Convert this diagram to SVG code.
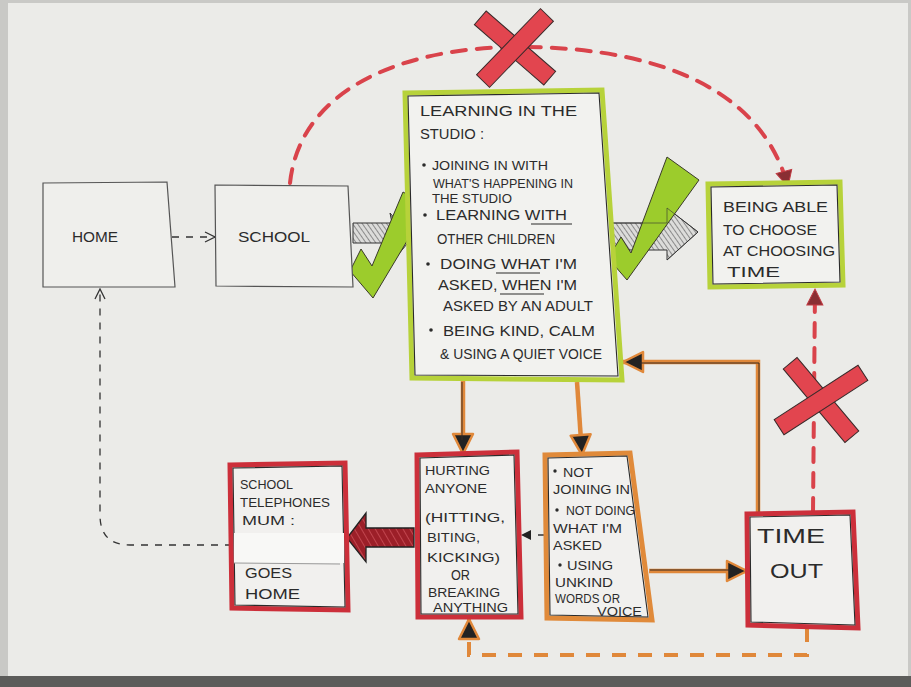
<svg xmlns="http://www.w3.org/2000/svg" width="911" height="687" viewBox="0 0 911 687">
<defs>
<style>
.t{font-family:"Liberation Sans",Arial,sans-serif;fill:#2b2b2b;font-size:14px}
.s{font-size:12.5px}
.big{font-size:20px}
.gbox{fill:#f2f2ef;stroke:#b7d23a;stroke-width:5}
.rbox{fill:#f1f0ee;stroke:#cc2f3a;stroke-width:5}
.obox{fill:#f1f0ee;stroke:#e08a3a;stroke-width:5}
.ink{fill:none;stroke:#2a2a2a;stroke-width:1.1}
.plain{fill:#efefec;stroke:#555;stroke-width:1.2}
.orange{fill:none;stroke:#e0883a;stroke-width:4.5}
.oink{fill:none;stroke:#3a2a20;stroke-width:1}
.reddash{fill:none;stroke:#d9434b;stroke-width:4;stroke-dasharray:14 11;stroke-linecap:round}
.odash{fill:none;stroke:#e0883a;stroke-width:4;stroke-dasharray:14 12}
.bdash{fill:none;stroke:#333;stroke-width:1.3;stroke-dasharray:7 7}
.x{fill:#e2454f;stroke:#3a2a2a;stroke-width:1}
.check{fill:#9ccc2c;stroke:#3a3a2a;stroke-width:1}
.ul{stroke:#2b2b2b;stroke-width:1.2}
</style>
<marker id="openArrow" viewBox="0 0 12 12" refX="11" refY="6" markerWidth="12" markerHeight="12" markerUnits="userSpaceOnUse" orient="auto">
<path d="M1,1 L11,6 L1,11" fill="none" stroke="#333" stroke-width="1.3"/>
</marker>
<marker id="oHead" viewBox="0 0 24 24" refX="22" refY="12" markerWidth="24" markerHeight="24" markerUnits="userSpaceOnUse" orient="auto">
<path d="M2,2 L22,12 L2,22 Z" fill="#222" stroke="#e0883a" stroke-width="2.5" stroke-linejoin="round"/>
</marker>
<marker id="rHead" viewBox="0 0 20 20" refX="18" refY="10" markerWidth="20" markerHeight="20" markerUnits="userSpaceOnUse" orient="auto">
<path d="M2,2 L18,10 L2,18 Z" fill="#8a2e33" stroke="#c03a42" stroke-width="1"/>
</marker>
<marker id="bHead" viewBox="0 0 12 12" refX="11" refY="6" markerWidth="12" markerHeight="12" markerUnits="userSpaceOnUse" orient="auto">
<path d="M1,1 L11,6 L1,11 Z" fill="#222"/>
</marker>
<pattern id="hatch" patternUnits="userSpaceOnUse" width="4" height="4" patternTransform="rotate(-35)">
<rect width="4" height="4" fill="#dcdcda"/>
<line x1="0" y1="0" x2="0" y2="4" stroke="#555" stroke-width="1.2"/>
</pattern>
<pattern id="rhatch" patternUnits="userSpaceOnUse" width="6" height="6" patternTransform="rotate(-30)">
<rect width="6" height="6" fill="#9c1f28"/>
<line x1="0" y1="0" x2="0" y2="6" stroke="#d55a62" stroke-width="1.3"/>
</pattern>
</defs>

<!-- paper / photo background -->
<rect x="0" y="0" width="911" height="687" fill="#c9c9c6"/>
<rect x="8" y="3" width="900" height="674" fill="#ebebe8"/>
<rect x="0" y="676" width="911" height="11" fill="#5c5c5a"/>

<!-- connectors -->
<g id="connectors">
<path d="M172,237 H215" class="bdash" stroke-dasharray="6 5" marker-end="url(#openArrow)"/>
<path d="M290,183 C300,90 400,48 515,47 C640,46 760,80 788,187" class="reddash" marker-end="url(#rHead)"/>
<path d="M813,512 L815,289" class="reddash" marker-end="url(#rHead)"/>
<path d="M463,380 V454" class="orange" marker-end="url(#oHead)"/>
<path d="M462,382 V440" class="oink"/>
<path d="M577,382 L582,455" class="orange" marker-end="url(#oHead)"/>
<path d="M649,571 H747" class="orange" marker-end="url(#oHead)"/>
<path d="M650,570 H730" class="oink"/>
<path d="M758,512 V362 H623" class="orange" marker-end="url(#oHead)"/>
<path d="M759,512 V363 H640" class="oink"/>
<path d="M545,535 H521" class="bdash" stroke-dasharray="5 4" marker-end="url(#bHead)"/>
<path d="M232,545 H130 Q100,545 100,515 V289" class="bdash" marker-end="url(#openArrow)"/>
<path d="M807,628 V655 H469 V619" class="odash" marker-end="url(#oHead)"/>
<polygon points="414,528 366,528 366,513 347,538 366,562 366,547 414,547" fill="url(#rhatch)" stroke="#222" stroke-width="1.3"/>
</g>

<!-- hatched arrows + ticks -->
<g id="tick-school-learning">
<polygon points="353,223 392,223 390,213 412,238 392,262 392,243 353,243" fill="url(#hatch)" stroke="#333" stroke-width="1"/>
<polygon points="350,271 361,249 372,266 403,192 428,206 373,298" class="check"/>
</g>
<g id="tick-learning-choose">
<polygon points="610,223 667,223 667,208 698,232 667,260 667,250 610,250" fill="url(#hatch)" stroke="#333" stroke-width="1"/>
<polygon points="608,258 621,237 631,253 667,157 699,180 627,280" class="check"/>
<polyline points="610,223 667,223 667,208 698,232 667,260" fill="none" stroke="#333" stroke-width="1" opacity="0.6"/>
</g>

<!-- red crosses -->
<g id="cross-top">
<rect x="-46" y="-9" width="92" height="18" class="x" transform="translate(515,48) rotate(41)"/>
<rect x="-46" y="-9" width="92" height="18" class="x" transform="translate(515,48) rotate(-46)"/>
</g>
<g id="cross-right">
<rect x="-48" y="-9" width="96" height="18" class="x" transform="translate(821,400) rotate(50)"/>
<rect x="-50" y="-9" width="100" height="18" class="x" transform="translate(821,400) rotate(-33)"/>
</g>

<!-- nodes -->
<g id="home">
<polygon points="43,183 167,182 175,287 43,287" class="plain"/>
<text class="t" x="72" y="242" font-size="13" textLength="46" lengthAdjust="spacingAndGlyphs">HOME</text>
</g>

<g id="school">
<polygon points="215,185 348,186 353,287 216,286" class="plain"/>
<text class="t" x="238" y="242" font-size="13" textLength="72" lengthAdjust="spacingAndGlyphs">SCHOOL</text>
</g>

<g id="learning">
<polygon points="405,93 602,90 622,380 412,378" class="gbox"/>
<polygon points="408,96 599,93 618,376 415,375" class="ink"/>
<text class="t" x="420" y="116" font-size="15" textLength="157" lengthAdjust="spacingAndGlyphs">LEARNING IN THE</text>
<text class="t" x="420" y="139" font-size="15" textLength="64" lengthAdjust="spacingAndGlyphs">STUDIO :</text>
<circle cx="424" cy="165" r="1.8" fill="#2b2b2b"/>
<text class="t s" x="432" y="170" textLength="116" lengthAdjust="spacingAndGlyphs">JOINING IN WITH</text>
<text class="t s" x="433" y="188" textLength="140" lengthAdjust="spacingAndGlyphs">WHAT'S HAPPENING IN</text>
<text class="t s" x="432" y="203" textLength="80" lengthAdjust="spacingAndGlyphs">THE STUDIO</text>
<circle cx="425" cy="215" r="1.8" fill="#2b2b2b"/>
<text class="t" x="436" y="220" textLength="131" lengthAdjust="spacingAndGlyphs">LEARNING WITH</text>
<line x1="531" y1="224" x2="572" y2="224" class="ul"/>
<text class="t" x="437" y="244" textLength="118" lengthAdjust="spacingAndGlyphs">OTHER CHILDREN</text>
<circle cx="428" cy="264" r="1.8" fill="#2b2b2b"/>
<text class="t" x="440" y="269" textLength="137" lengthAdjust="spacingAndGlyphs">DOING WHAT I'M</text>
<line x1="496" y1="273" x2="540" y2="273" class="ul"/>
<text class="t" x="438" y="290" textLength="139" lengthAdjust="spacingAndGlyphs">ASKED, WHEN I'M</text>
<line x1="500" y1="294" x2="544" y2="294" class="ul"/>
<text class="t" x="443" y="311" textLength="150" lengthAdjust="spacingAndGlyphs">ASKED BY AN ADULT</text>
<circle cx="431" cy="330" r="1.8" fill="#2b2b2b"/>
<text class="t" x="443" y="336" textLength="152" lengthAdjust="spacingAndGlyphs">BEING KIND, CALM</text>
<text class="t" x="440" y="359" textLength="162" lengthAdjust="spacingAndGlyphs">&amp; USING A QUIET VOICE</text>
</g>

<g id="choose">
<polygon points="708,184 840,182 843,285 710,287" class="gbox"/>
<polygon points="711,187 837,185 840,282 713,284" class="ink"/>
<text class="t" x="723" y="212" textLength="105" lengthAdjust="spacingAndGlyphs">BEING ABLE</text>
<text class="t" x="723" y="235" textLength="94" lengthAdjust="spacingAndGlyphs">TO CHOOSE</text>
<text class="t" x="723" y="256" textLength="112" lengthAdjust="spacingAndGlyphs">AT CHOOSING</text>
<text class="t" x="727" y="277" textLength="53" lengthAdjust="spacingAndGlyphs">TIME</text>
</g>

<g id="telephones">
<polygon points="230,465 345,463 348,610 232,608" class="rbox"/>
<polygon points="233,468 342,466 345,607 235,605" class="ink"/>
<rect x="234" y="533" width="110" height="30" fill="#f8f8f6"/>
<line x1="234" y1="563" x2="340" y2="564" stroke="#999" stroke-width="1"/>
<text class="t s" x="240" y="489" textLength="53" lengthAdjust="spacingAndGlyphs">SCHOOL</text>
<text class="t s" x="240" y="507" textLength="90" lengthAdjust="spacingAndGlyphs">TELEPHONES</text>
<text class="t s" x="242" y="525" textLength="53" lengthAdjust="spacingAndGlyphs">MUM :</text>
<text class="t" x="245" y="578" font-size="17" textLength="47" lengthAdjust="spacingAndGlyphs">GOES</text>
<text class="t" x="245" y="599" font-size="17" textLength="55" lengthAdjust="spacingAndGlyphs">HOME</text>
</g>

<g id="hurting">
<polygon points="417,455 517,452 521,617 418,617" class="rbox"/>
<polygon points="420,458 514,455 518,614 421,614" class="ink"/>
<text class="t s" x="425" y="475" textLength="65" lengthAdjust="spacingAndGlyphs">HURTING</text>
<text class="t s" x="425" y="493" textLength="62" lengthAdjust="spacingAndGlyphs">ANYONE</text>
<text class="t s" x="425" y="522" textLength="80" lengthAdjust="spacingAndGlyphs">(HITTING,</text>
<text class="t s" x="427" y="542" textLength="53" lengthAdjust="spacingAndGlyphs">BITING,</text>
<text class="t s" x="427" y="562" textLength="73" lengthAdjust="spacingAndGlyphs">KICKING)</text>
<text class="t" x="451" y="580" font-size="10" textLength="19" lengthAdjust="spacingAndGlyphs">OR</text>
<text class="t s" x="428" y="597" textLength="72" lengthAdjust="spacingAndGlyphs">BREAKING</text>
<text class="t s" x="433" y="612" textLength="75" lengthAdjust="spacingAndGlyphs">ANYTHING</text>
</g>

<g id="not-joining">
<polygon points="545,455 630,453 652,620 547,618" class="obox"/>
<polygon points="548,458 627,456 648,617 550,615" class="ink"/>
<circle cx="555" cy="471" r="1.7" fill="#2b2b2b"/>
<text class="t s" x="563" y="477" textLength="30" lengthAdjust="spacingAndGlyphs">NOT</text>
<text class="t s" x="553" y="494" textLength="77" lengthAdjust="spacingAndGlyphs">JOINING IN</text>
<circle cx="557" cy="510" r="1.7" fill="#2b2b2b"/>
<text class="t s" x="566" y="515" textLength="69" lengthAdjust="spacingAndGlyphs">NOT DOING</text>
<text class="t s" x="553" y="533" textLength="69" lengthAdjust="spacingAndGlyphs">WHAT I'M</text>
<text class="t s" x="553" y="550" textLength="49" lengthAdjust="spacingAndGlyphs">ASKED</text>
<circle cx="560" cy="565" r="1.7" fill="#2b2b2b"/>
<text class="t s" x="567" y="570" textLength="46" lengthAdjust="spacingAndGlyphs">USING</text>
<text class="t s" x="555" y="587" textLength="58" lengthAdjust="spacingAndGlyphs">UNKIND</text>
<text class="t s" x="555" y="603" textLength="65" lengthAdjust="spacingAndGlyphs">WORDS OR</text>
<text class="t s" x="597" y="616" textLength="45" lengthAdjust="spacingAndGlyphs">VOICE</text>
</g>

<g id="time-out">
<polygon points="747,514 853,512 858,628 748,625" class="rbox" stroke="#d2424c"/>
<polygon points="750,517 850,515 855,625 751,622" class="ink" stroke-width="0.8"/>
<text class="t big" x="757" y="543" textLength="68" lengthAdjust="spacingAndGlyphs">TIME</text>
<text class="t big" x="770" y="578" textLength="53" lengthAdjust="spacingAndGlyphs">OUT</text>
</g>
</svg>
